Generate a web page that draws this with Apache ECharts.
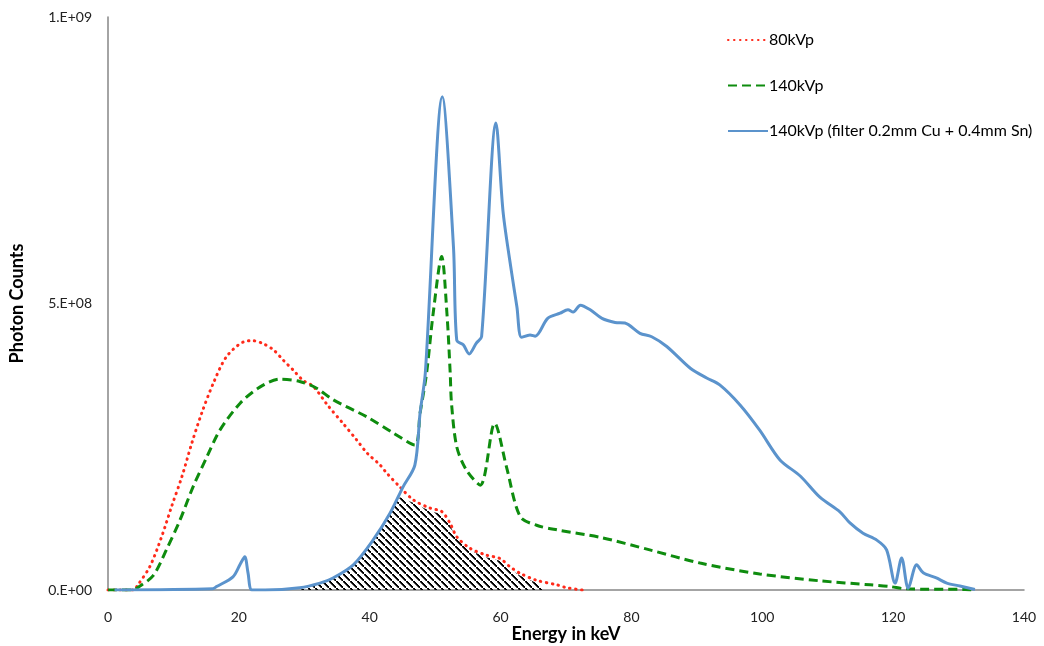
<!DOCTYPE html>
<html>
<head>
<meta charset="utf-8">
<script src="https://cdn.jsdelivr.net/npm/echarts@6/dist/echarts.min.js"></script>
<style>
html,body{margin:0;padding:0;background:#fff;}
#chart{width:1044px;height:646px;}
</style>
</head>
<body>
<div id="chart"></div>
<script>
// Values in millions of photon counts, x in keV
var seriesNames = ['80kVp', '140kVp', '140kVp (filter 0.2mm Cu + 0.4mm Sn)'];
var yTickLabels = ['0.E+00', '5.E+08', '1.E+09'];

var red80 = [[0,0],[4,0],[4.4,6],[6.4,41],[8.2,93],[9.7,145],[11.3,198],[12.8,256],[14.3,308],[16.1,361],[18.1,407],[20.7,433],[22.2,435],[23.7,430],[25.3,419],[26.8,401],[28.3,384],[29.8,366],[31.4,355],[33.6,322],[35.9,291],[38,262],[39.6,239],[41.6,218],[42.6,204],[44.6,180],[46.7,157],[49.2,143],[51,137],[52.3,116],[53.3,93],[55.3,73],[57.8,61],[59.9,55],[61.4,41],[63,29],[65.5,17],[68.6,9],[70.1,4],[72.5,0]];

var green140 = [[0,0],[4,0],[4.4,3],[6.9,25],[9,72],[11,122],[13,180],[15.1,232],[17.1,279],[20.2,326],[23.2,354],[26.3,368],[29.3,364],[31.9,352],[34.4,332],[39.6,302],[43.6,274],[46.9,253],[47.7,309],[48.7,379],[49.7,483],[51,582],[51.8,483],[52.3,379],[52.5,326],[53.3,250],[54.8,209],[56.9,183],[59.1,291],[60.9,215],[63,128],[65.5,113],[68.6,105],[75.2,92],[82.8,70],[90.5,47],[99.6,28],[108.8,16],[116.5,9],[119.5,6],[122,2],[131,1],[132,0]];

var blueFiltered = [[1,0],[16,2],[16.6,6],[19.1,23],[20.2,45],[20.9,58],[21.4,30],[22,0],[24,0],[29.3,4],[32.4,12],[34.4,21],[37.5,44],[40.5,87],[43.1,134],[45.1,180],[46.9,218],[47.7,309],[48.5,379],[51.1,861],[52.8,599],[53.3,436],[54.3,428],[55.2,412],[56.3,431],[57.1,442],[59.3,815],[60.4,658],[61.7,553],[62.5,494],[63.2,441],[64.5,445],[65.3,443],[67.2,474],[69.1,483],[70.3,489],[71.1,485],[72.2,497],[73.7,489],[75.5,474],[77.5,467],[79,466],[81.3,448],[83.1,442],[85.4,425],[89,387],[91.5,370],[93.5,358],[96.6,323],[99.6,279],[102.7,227],[105.8,199],[108.8,162],[111.9,136],[113.4,117],[115.4,99],[117.5,87],[119,70],[120.3,12],[121.3,56],[122.3,3],[123.6,44],[124.6,30],[126.6,21],[128.2,12],[130.2,7],[132.5,1]];

var overlapHatch = [[29,0],[32.4,10],[34.4,19],[37.5,42],[40.5,85],[43.1,132],[44.6,162],[46.7,152],[49.2,138],[51,132],[52.3,112],[53.3,89],[55.3,69],[57.8,57],[59.9,51],[61.4,37],[63,25],[65.5,12],[66.5,0]];

function toCounts(arr){ return arr.map(function(p){ return [p[0], p[1]*1e6]; }); }

// diagonal hatch pattern
var pc = document.createElement('canvas');
pc.width = 7; pc.height = 7;
var pctx = pc.getContext('2d');
pctx.fillStyle = '#000';
for (var i = 0; i < 7; i += 1) { pctx.fillRect(i, i, 2, 1.6); }

var chart = echarts.init(document.getElementById('chart'), null, {renderer: 'canvas'});
var fontFam = 'Lato, "Open Sans", sans-serif';
chart.setOption({
  animation: false,
  backgroundColor: '#fff',
  grid: {left: 108, right: 20, top: 17, bottom: 56, outerBoundsMode: 'none', containLabel: false},
  legend: {
    orient: 'vertical', left: 722, top: 27,
    itemWidth: 40, itemHeight: 14, itemGap: 29.5,
    itemStyle: {opacity: 0},
    textStyle: {fontFamily: fontFam, fontSize: 16, color: '#000', padding: [0,0,0,-4]},
    data: seriesNames
  },
  xAxis: {
    type: 'value', min: 0, max: 140, interval: 20,
    name: 'Energy in keV', nameLocation: 'middle', nameGap: 35, nameMoveOverlap: false,
    nameTextStyle: {fontFamily: fontFam, fontSize: 18, fontWeight: 'bold', color: '#000'},
    axisLine: {show: true, lineStyle: {color: '#868686', width: 1.5}},
    axisTick: {show: false},
    splitLine: {show: false},
    axisLabel: {fontFamily: fontFam, fontSize: 14, color: '#222', margin: 20}
  },
  yAxis: {
    type: 'value', min: 0, max: 1e9, interval: 5e8,
    name: 'Photon Counts', nameLocation: 'middle', nameGap: 82,
    nameTextStyle: {fontFamily: fontFam, fontSize: 18, fontWeight: 'bold', color: '#000'},
    axisLine: {show: true, lineStyle: {color: '#868686', width: 1.5}},
    axisTick: {show: false},
    splitLine: {show: false},
    axisLabel: {fontFamily: fontFam, fontSize: 14, color: '#222', margin: 16,
      formatter: function(v){ return yTickLabels[Math.round(v/5e8)]; }}
  },
  series: [
    {
      name: 'overlap', type: 'line', data: toCounts(overlapHatch), symbol: 'none',
      lineStyle: {width: 0, opacity: 0}, z: 1, silent: true,
      areaStyle: {color: {image: pc, repeat: 'repeat'}, opacity: 1}
    },
    {
      name: seriesNames[0], type: 'line', data: toCounts(red80), symbol: 'none',
      smooth: 0.3, z: 3,
      lineStyle: {color: '#ff2a1a', width: 3, type: [0.5, 5.5], cap: 'round'},
      itemStyle: {color: '#ff2a1a'}
    },
    {
      name: seriesNames[1], type: 'line', data: toCounts(green140), symbol: 'none',
      smooth: 0.3, z: 4,
      lineStyle: {color: '#0e8c0e', width: 3, type: [9, 5]},
      itemStyle: {color: '#0e8c0e'}
    },
    {
      name: seriesNames[2], type: 'line', data: toCounts(blueFiltered), symbol: 'none',
      smooth: 0.3, z: 5,
      lineStyle: {color: '#5b93cc', width: 3},
      itemStyle: {color: '#5b93cc'}
    }
  ]
});
</script>
</body>
</html>
